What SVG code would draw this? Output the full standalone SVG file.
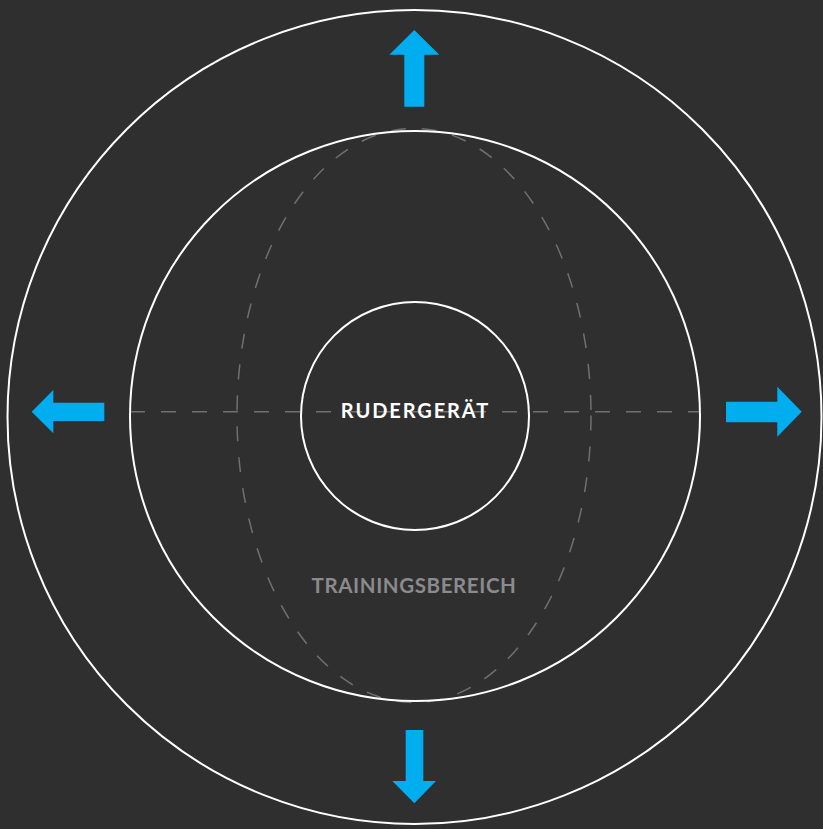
<svg xmlns="http://www.w3.org/2000/svg" width="823" height="829" viewBox="0 0 823 829">
<style>
.ring{fill:none;stroke:#ffffff;stroke-width:2}
.dash{fill:none;stroke:#707071;stroke-width:1.5;stroke-dasharray:15 16}
.arrow{fill:#00adee}
.lbl{font-family:Lato,"Open Sans","Liberation Sans",sans-serif;font-weight:bold;text-anchor:middle}
</style>
<rect x="0" y="0" width="823" height="829" fill="#302f30"/>
<g id="outer"><circle class="ring" cx="414.5" cy="417" r="407"/></g>
<g id="connectors">
<line class="dash" x1="130" y1="411.7" x2="700" y2="411.7"/>
<ellipse class="dash" cx="414" cy="415.5" rx="177" ry="287"/>
</g>
<g id="trainingsbereich">
<circle class="ring" cx="415" cy="416" r="285"/>
<text class="lbl" x="414" y="592.5" font-size="20.5" fill="#8b8b8d" letter-spacing="0.6">TRAININGSBEREICH</text>
</g>
<g id="rudergeraet">
<circle class="ring" cx="415" cy="416" r="114" fill="#302f30"/>
<text class="lbl" x="415.5" y="418.3" font-size="20" fill="#ffffff" letter-spacing="1.9">RUDERGERÄT</text>
</g>
<g id="arrow-up"><polygon class="arrow" points="414.3,30 439.3,54.7 424.3,54.7 424.3,106.7 404.3,106.7 404.3,54.7 389.3,54.7"/></g>
<g id="arrow-down"><polygon class="arrow" points="414.3,803.3 436,781 423.3,781 423.3,730 405.7,730 405.7,781 392.3,781"/></g>
<g id="arrow-left"><polygon class="arrow" points="31.7,411.7 53.3,390 53.3,402.7 104.3,402.7 104.3,421 53.3,421 53.3,433.3"/></g>
<g id="arrow-right"><polygon class="arrow" points="801.7,411.7 777.3,386.7 777.3,401.7 726,401.7 726,422.3 777.3,422.3 777.3,436.7"/></g>
</svg>
